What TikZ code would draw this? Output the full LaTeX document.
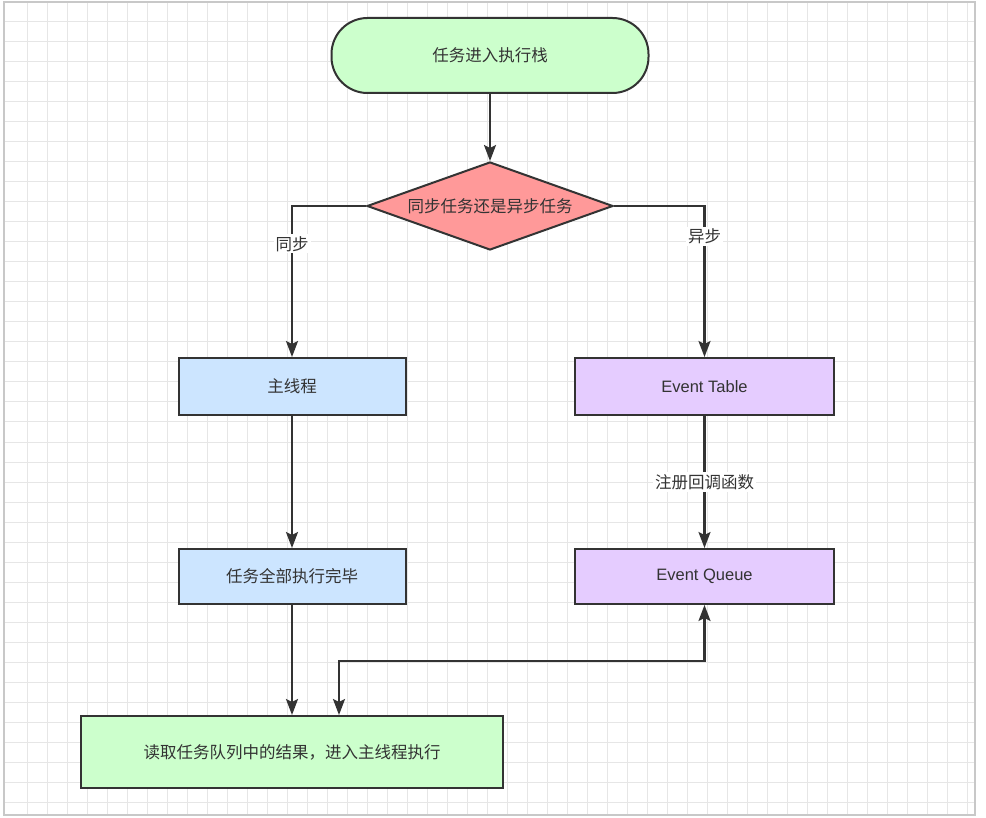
\documentclass[tikz,border=0pt]{standalone}
\usepackage{fontspec}
\setmainfont{Liberation Sans}
\newfontfamily\cjk{Noto Sans CJK SC}
\usetikzlibrary{arrows.meta,shapes.geometric}
\definecolor{linegray}{HTML}{333333}
\definecolor{textgray}{HTML}{333333}
\definecolor{gridgray}{HTML}{E6E6E6}
\definecolor{framegray}{HTML}{C8C8C8}
\definecolor{startgreen}{HTML}{CCFFCC}
\definecolor{choicered}{HTML}{FF9999}
\definecolor{syncblue}{HTML}{CCE5FF}
\definecolor{asyncviolet}{HTML}{E5CCFF}
\begin{document}
\begin{tikzpicture}
    [
        x=1pt, y=-1pt,
        every node/.style={
                text=textgray,
                font=\cjk\fontsize{16.5}{20}\selectfont,
            },
        block/.style={
                rectangle,
                draw=linegray,
                line width=2pt,
                fill=#1,
            },
        latin/.style={font=\rmfamily\fontsize{16.5}{20}\selectfont},
        flow/.style={
                draw=linegray,
                line width=2.2pt,
                -{Stealth[length=16pt,width=12pt,inset=3pt]},
            },
        tag/.style={fill=white, inner sep=2pt},
    ]

    \useasboundingbox (0,0) rectangle (986,818);
    \fill [white] (0,0) rectangle (986,818);

    % canvas grid, 20px cells
    \foreach \gx in {27,47,...,967}
        \draw [gridgray, line width=1pt] (\gx,2) -- (\gx,815);
    \foreach \gy in {22,42,...,802}
        \draw [gridgray, line width=1pt] (4,\gy) -- (975,\gy);
    \draw [framegray, line width=1.5pt] (4,2) rectangle (975,815);

    % nodes
    \node [block=startgreen, rounded corners=36pt, minimum width=317pt, minimum height=75pt]
        (start) at (490,55.5) {任务进入执行栈};
    \node [block=choicered, diamond, aspect=2.8, inner sep=0pt, minimum width=246pt, minimum height=88pt]
        (choice) at (490,206) {同步任务还是异步任务};
    \node [block=syncblue, minimum width=227pt, minimum height=57pt]
        (mainth) at (292,386.5) {主线程};
    \node [block=asyncviolet, latin, minimum width=259pt, minimum height=57pt]
        (etable) at (704.5,386.5) {Event Table};
    \node [block=syncblue, minimum width=227pt, minimum height=55pt]
        (alldone) at (292,576.5) {任务全部执行完毕};
    \node [block=asyncviolet, latin, minimum width=259pt, minimum height=55pt]
        (equeue) at (704.5,576.5) {Event Queue};
    \node [block=startgreen, minimum width=422pt, minimum height=72pt]
        (readq) at (292,752) {读取任务队列中的结果，进入主线程执行};

    % connectors
    \draw [flow] (start) -- (choice);
    \draw [flow] (choice.west) -| node [tag, pos=0.625] {同步} (mainth.north);
    \draw [flow] (choice.east) -| node [tag, pos=0.6] {异步} (etable.north);
    \draw [flow] (mainth) -- (alldone);
    \draw [flow] (etable) -- node [tag] {注册回调函数} (equeue);
    \draw [flow] (alldone.south) -- (readq.north);
    \draw [flow, {Stealth[length=16pt,width=12pt,inset=3pt]}-{Stealth[length=16pt,width=12pt,inset=3pt]}]
        (equeue.south) -- ++(0,56) -| ([xshift=47pt]readq.north);
\end{tikzpicture}
\end{document}
